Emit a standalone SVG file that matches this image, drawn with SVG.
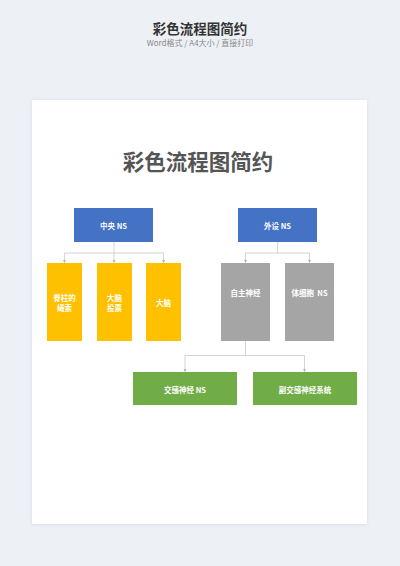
<svg xmlns="http://www.w3.org/2000/svg" width="400" height="566" viewBox="0 0 400 566">
<defs>
<style>
.hdr{font-family:"Noto Sans CJK SC","Liberation Sans",sans-serif;text-anchor:middle}
.t{font-family:"Noto Sans CJK SC","Liberation Sans",sans-serif;font-size:7.5px;font-weight:600;fill:#ffffff;text-anchor:middle;dominant-baseline:central;white-space:pre}
.c{fill:none;stroke:#c9c9c9;stroke-width:0.8}
.blue{fill:#4472c4}
.yellow{fill:#ffc000}
.gray{fill:#a5a5a5}
.green{fill:#70ad47}
</style>
<marker id="ah" viewBox="0 0 6 6" refX="5" refY="3" markerWidth="4" markerHeight="4" orient="auto">
<path d="M0,0 L6,3 L0,6 z" fill="#b5b5b5"/>
</marker>
<filter id="sh" x="-5%" y="-5%" width="110%" height="110%">
<feGaussianBlur stdDeviation="1.5"/>
</filter>
</defs>
<rect width="400" height="566" fill="#edf0f5"/>
<text class="hdr" x="200" y="34" font-size="13.5" font-weight="700" fill="#333333">彩色流程图简约</text>
<text class="hdr" x="200" y="45.5" font-size="8" fill="#8a8a8a">Word格式 / A4大小 / 直接打印</text>
<rect x="32" y="100.5" width="335" height="424" fill="#d6d9df" filter="url(#sh)"/>
<rect x="32" y="100" width="335" height="424" fill="#ffffff"/>
<text class="hdr" x="198" y="170" font-size="21.5" font-weight="700" fill="#555555">彩色流程图简约</text>
<g id="connectors">
<path class="c" d="M114,242 V253 M64.5,253 H163.5"/>
<path class="c" d="M64.5,253 V262.5" marker-end="url(#ah)"/>
<path class="c" d="M114,253 V262.5" marker-end="url(#ah)"/>
<path class="c" d="M163.5,253 V262.5" marker-end="url(#ah)"/>
<path class="c" d="M277.5,242 V253 M245.5,253 H309.5"/>
<path class="c" d="M245.5,253 V262.5" marker-end="url(#ah)"/>
<path class="c" d="M309.5,253 V262.5" marker-end="url(#ah)"/>
<path class="c" d="M245.5,341 V355.5 M185,355.5 H304.5"/>
<path class="c" d="M185,355.5 V371.5" marker-end="url(#ah)"/>
<path class="c" d="M304.5,355.5 V371.5" marker-end="url(#ah)"/>
</g>
<g id="n-central"><rect class="blue" x="74" y="208" width="79" height="34"/><text class="t" x="113.5" y="225.5">中央 NS</text></g>
<g id="n-peripheral"><rect class="blue" x="238" y="208" width="79" height="34"/><text class="t" x="277.5" y="225.5">外设 NS</text></g>
<g id="n-spinal"><rect class="yellow" x="47" y="263" width="35" height="78"/><text class="t" x="64.5" y="297">脊柱的</text><text class="t" x="64.5" y="307.5">绳索</text></g>
<g id="n-brainstem"><rect class="yellow" x="97" y="263" width="35" height="78"/><text class="t" x="114.5" y="297">大脑</text><text class="t" x="114.5" y="307.5">投票</text></g>
<g id="n-brain"><rect class="yellow" x="146" y="263" width="35" height="78"/><text class="t" x="163.5" y="302.5">大脑</text></g>
<g id="n-autonomic"><rect class="gray" x="221" y="263" width="49" height="78"/><text class="t" x="245.5" y="292.5">自主神经</text></g>
<g id="n-somatic"><rect class="gray" x="285" y="263" width="49" height="78"/><text class="t" x="309.5" y="292.5">体细胞  NS</text></g>
<g id="n-sympathetic"><rect class="green" x="133" y="372" width="104" height="33"/><text class="t" x="185" y="389">交感神经 NS</text></g>
<g id="n-parasympathetic"><rect class="green" x="253" y="372" width="104" height="33"/><text class="t" x="305" y="389">副交感神经系统</text></g>
</svg>
